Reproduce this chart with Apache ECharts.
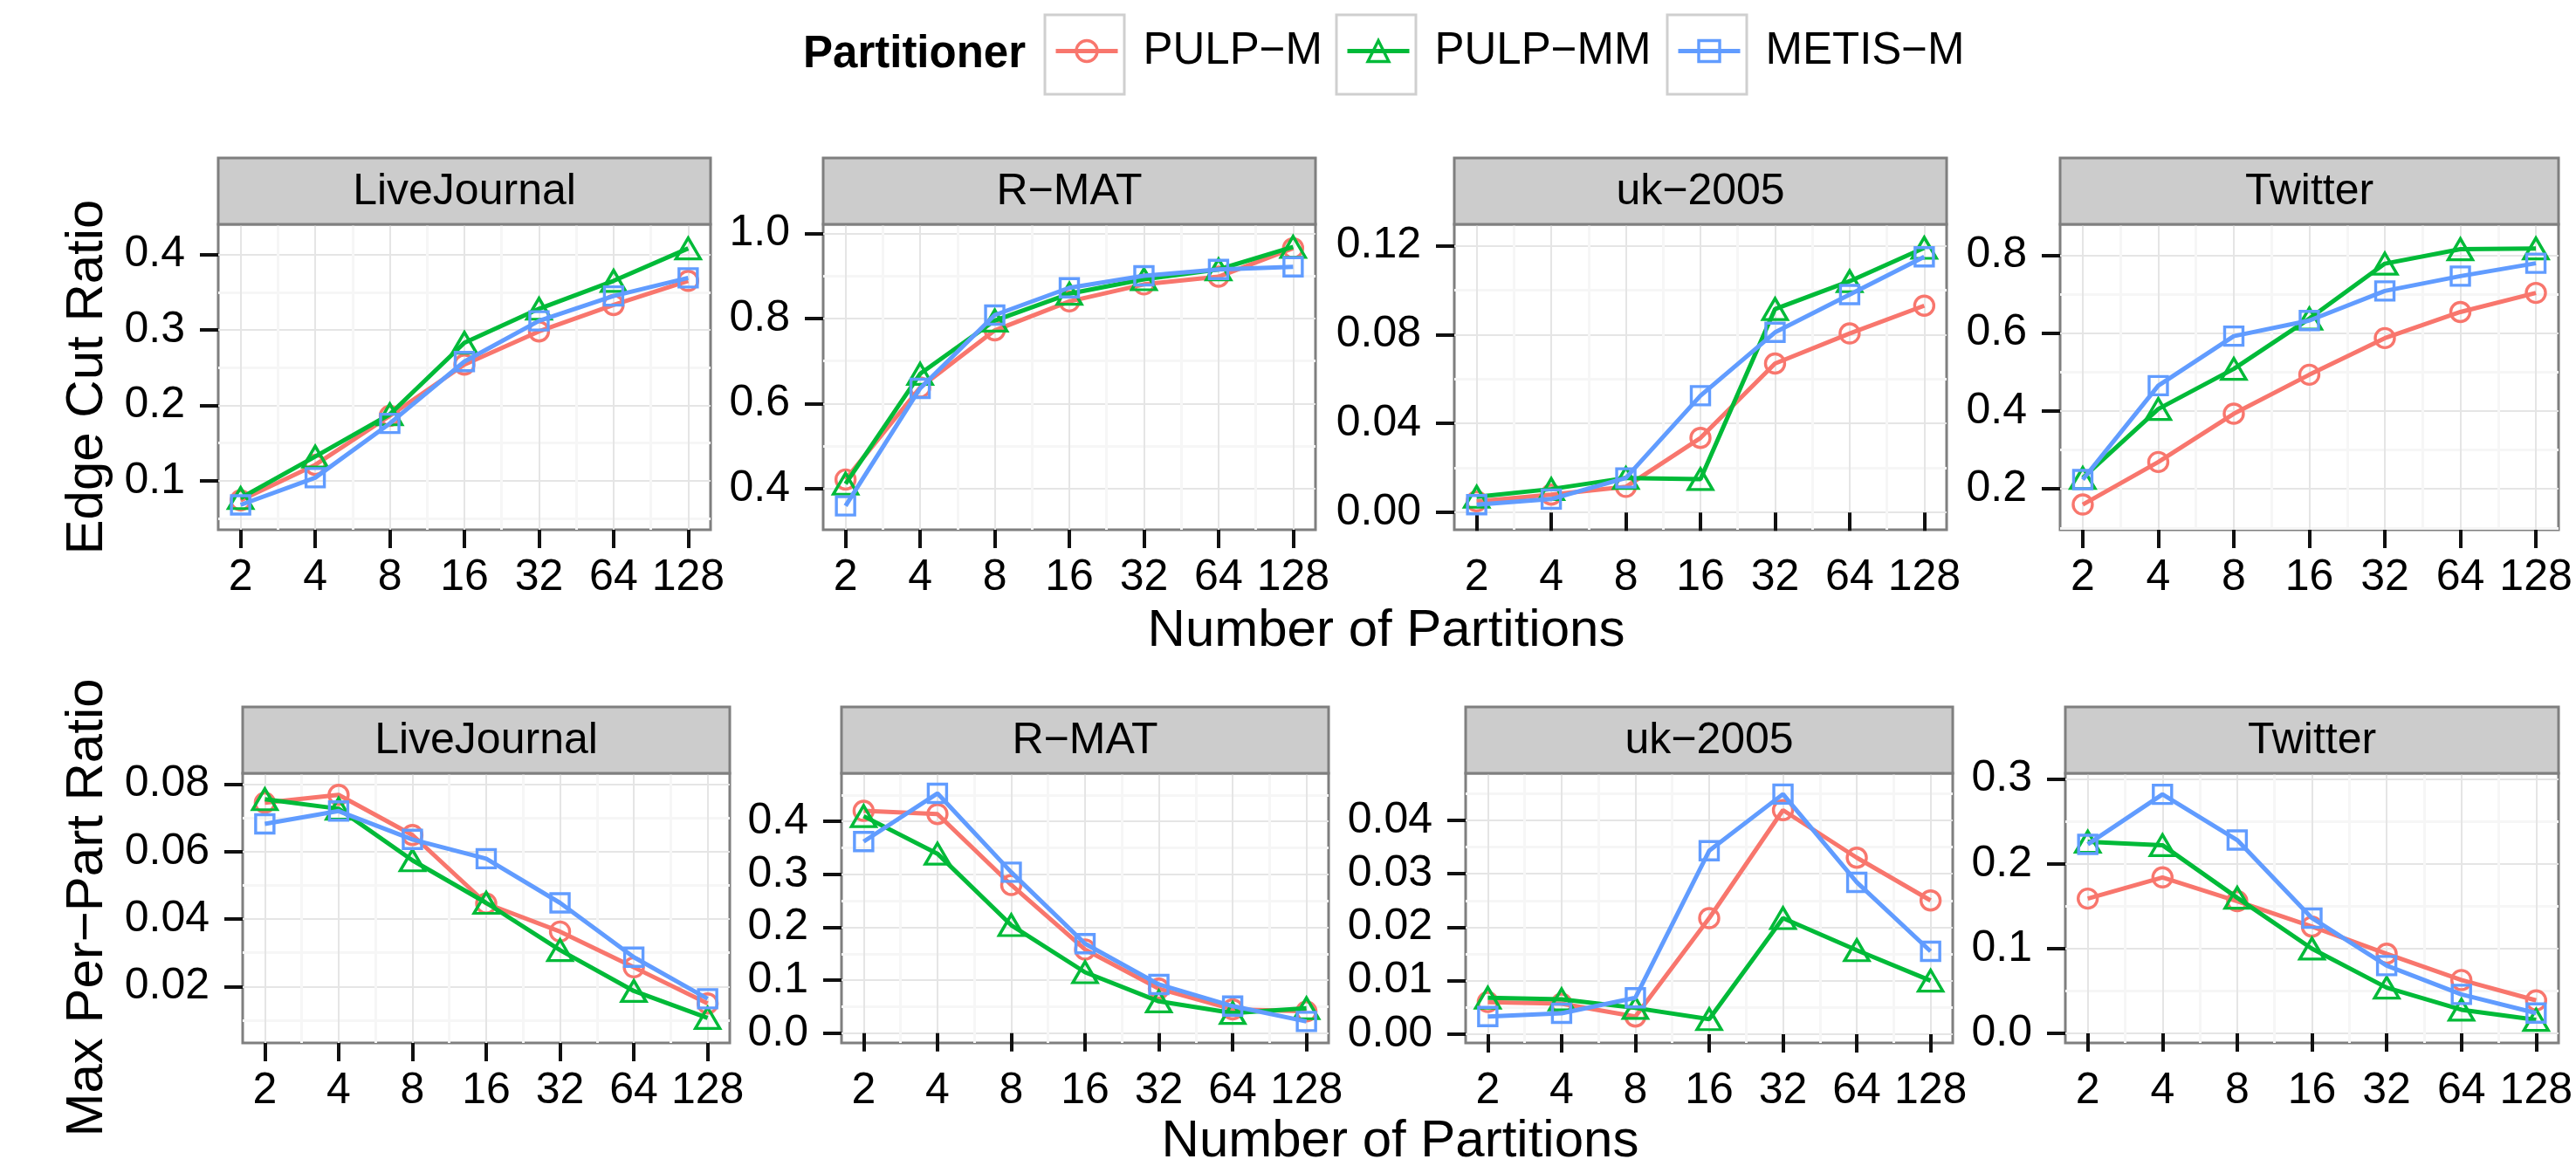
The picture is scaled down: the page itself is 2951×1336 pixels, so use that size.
<!DOCTYPE html>
<html>
<head>
    <meta charset="utf-8">
    <title>Edge Cut Ratio / Max Per-Part Ratio</title>
    <script src="https://cdn.jsdelivr.net/npm/echarts/dist/echarts.min.js"></script>
    <style>
        html, body { margin: 0; background: #fff; }
        #main { width: 2951px; height: 1336px; }
    </style>
</head>
<body>
<div id="main"></div>
<script>
    // ---- data ----
    var partitions = [2, 4, 8, 16, 32, 64, 128];
    var partitioners = ['PULP−M', 'PULP−MM', 'METIS−M'];
    var graphs = ['LiveJournal', 'R−MAT', 'uk−2005', 'Twitter'];

    // edge cut ratio, rows: PULP-M, PULP-MM, METIS-M
    var cutLiveJournal = [
        [0.074, 0.121, 0.186, 0.254, 0.298, 0.333, 0.365],
        [0.077, 0.132, 0.188, 0.283, 0.328, 0.365, 0.408],
        [0.068, 0.104, 0.176, 0.258, 0.312, 0.345, 0.369]
    ];
    var cutRMAT = [
        [0.422, 0.638, 0.772, 0.840, 0.880, 0.898, 0.965],
        [0.412, 0.670, 0.795, 0.858, 0.892, 0.915, 0.968],
        [0.360, 0.636, 0.808, 0.872, 0.900, 0.915, 0.921]
    ];
    var cutUK2005 = [
        [0.0050, 0.0080, 0.0115, 0.0335, 0.0670, 0.0805, 0.0930],
        [0.0070, 0.0105, 0.0155, 0.0150, 0.0915, 0.1040, 0.1190],
        [0.0035, 0.0060, 0.0155, 0.0525, 0.0810, 0.0980, 0.1150]
    ];
    var cutTwitter = [
        [0.160, 0.269, 0.393, 0.493, 0.587, 0.654, 0.703],
        [0.228, 0.405, 0.508, 0.637, 0.778, 0.815, 0.817],
        [0.224, 0.465, 0.592, 0.632, 0.708, 0.746, 0.779]
    ];

    // max per-part ratio, rows: PULP-M, PULP-MM, METIS-M
    var partLiveJournal = [
        [0.0745, 0.0768, 0.0649, 0.0446, 0.0363, 0.0257, 0.0150],
        [0.0755, 0.0727, 0.0574, 0.0448, 0.0308, 0.0187, 0.0107],
        [0.0682, 0.0720, 0.0636, 0.0579, 0.0448, 0.0287, 0.0164]
    ];
    var partRMAT = [
        [0.420, 0.414, 0.280, 0.158, 0.084, 0.045, 0.041],
        [0.410, 0.339, 0.204, 0.115, 0.060, 0.038, 0.047],
        [0.362, 0.453, 0.304, 0.169, 0.092, 0.051, 0.022]
    ];
    var partUK2005 = [
        [0.0060, 0.0057, 0.0033, 0.0217, 0.0419, 0.0330, 0.0250],
        [0.0068, 0.0065, 0.0049, 0.0028, 0.0217, 0.0157, 0.0100],
        [0.0033, 0.0039, 0.0068, 0.0343, 0.0449, 0.0284, 0.0155]
    ];
    var partTwitter = [
        [0.159, 0.184, 0.156, 0.126, 0.094, 0.063, 0.039],
        [0.226, 0.222, 0.160, 0.100, 0.054, 0.028, 0.016],
        [0.223, 0.282, 0.228, 0.136, 0.080, 0.046, 0.024]
    ];

    // y tick labels per panel
    var cutTicks = [[0.1, 0.2, 0.3, 0.4], [0.4, 0.6, 0.8, 1.0], [0, 0.04, 0.08, 0.12], [0.2, 0.4, 0.6, 0.8]];
    var partTicks = [[0.02, 0.04, 0.06, 0.08], [0, 0.1, 0.2, 0.3, 0.4], [0, 0.01, 0.02, 0.03, 0.04], [0, 0.1, 0.2, 0.3]];
    var cutDigits = [1, 1, 2, 1];
    var partDigits = [2, 1, 2, 1];

    // ---- layout ----
    var FONT = '"Liberation Sans", Arial, sans-serif';
    var colors = ['#F8766D', '#00BA38', '#619CFF'];
    var symbols = ['circle', 'triangle', 'rect'];
    var symbolSizes = [22, [28, 24], 21];
    var LINE_W = 5, MARK_W = 3.4;

    var rowTop = [257, 886];
    var rowHeight = [350, 309];
    var stripH = 76;
    var panelLeft = [[250, 943, 1666, 2360], [278, 964, 1679, 2366]];
    var panelRight = [[814, 1507, 2230, 2931], [836, 1522, 2237, 2931]];
    // y extents (ggplot-style padded)
    var cutRange = [[0.035, 0.44], [0.304, 1.021], [-0.0078, 0.1296], [0.0952, 0.879]];
    var partRange = [[0.0033, 0.0832], [-0.0186, 0.491], [-0.00165, 0.0488], [-0.0112, 0.3068]];

    var xMin = Math.pow(2, 0.7), xMax = Math.pow(2, 7.3);
    var xMinor = [];
    for (var i = 0; i + 1 < partitions.length; i++) {
        xMinor.push(Math.sqrt(partitions[i] * partitions[i + 1]));
    }

    function minorOf(ticks, range) {
        var step = ticks[1] - ticks[0];
        var out = [ticks[0] - step / 2];
        ticks.forEach(function (t) { out.push(t + step / 2); });
        return out.filter(function (v) { return v > range[0] && v < range[1]; });
    }

    var rows = [
        { data: [cutLiveJournal, cutRMAT, cutUK2005, cutTwitter], ticks: cutTicks, range: cutRange, digits: cutDigits },
        { data: [partLiveJournal, partRMAT, partUK2005, partTwitter], ticks: partTicks, range: partRange, digits: partDigits }
    ];

    var grids = [], xAxes = [], yAxes = [], series = [], graphics = [];
    var labelStyle = { color: '#000', fontSize: 50, fontFamily: FONT };

    rows.forEach(function (row, r) {
        for (var c = 0; c < 4; c++) {
            var g = grids.length;
            var left = panelLeft[r][c], width = panelRight[r][c] - panelLeft[r][c];
            grids.push({
                left: left, top: rowTop[r], width: width, height: rowHeight[r],
                show: true, backgroundColor: '#fff', borderColor: '#7f7f7f', borderWidth: 3
            });
            var digits = row.digits[c];
            // main axes
            xAxes.push({
                gridIndex: g, type: 'log', logBase: 2, min: xMin, max: xMax,
                axisLine: { show: false },
                axisTick: { show: true, length: 21, lineStyle: { color: '#111', width: 4 }, customValues: partitions },
                axisLabel: Object.assign({ margin: 30, customValues: partitions }, labelStyle),
                splitLine: { show: true, lineStyle: { color: '#e5e5e5', width: 2 } }
            });
            yAxes.push({
                gridIndex: g, type: 'value', min: row.range[c][0], max: row.range[c][1],
                axisLine: { show: false },
                axisTick: { show: true, length: 21, lineStyle: { color: '#111', width: 4 }, customValues: row.ticks[c] },
                axisLabel: Object.assign({
                    margin: 38, customValues: row.ticks[c],
                    formatter: (function (d) { return function (v) { return v.toFixed(d); }; })(digits)
                }, labelStyle),
                splitLine: { show: true, lineStyle: { color: '#e5e5e5', width: 2 } }
            });
            // minor grid axes
            xAxes.push({
                gridIndex: g, type: 'log', logBase: 2, min: xMin, max: xMax,
                axisLine: { show: false }, axisLabel: { show: false },
                axisTick: { show: false, customValues: xMinor },
                splitLine: { show: true, lineStyle: { color: '#f6f6f6', width: 3 } }
            });
            yAxes.push({
                gridIndex: g, type: 'value', min: row.range[c][0], max: row.range[c][1],
                axisLine: { show: false }, axisLabel: { show: false },
                axisTick: { show: false, customValues: minorOf(row.ticks[c], row.range[c]) },
                splitLine: { show: true, lineStyle: { color: '#f6f6f6', width: 3 } }
            });

            row.data[c].forEach(function (vals, k) {
                series.push({
                    type: 'line', name: partitioners[k],
                    xAxisIndex: 2 * g, yAxisIndex: 2 * g,
                    data: partitions.map(function (p, j) { return [p, vals[j]]; }),
                    symbol: symbols[k], symbolSize: symbolSizes[k],
                    showAllSymbol: true,
                    lineStyle: { color: colors[k], width: LINE_W },
                    itemStyle: { color: 'rgba(255,255,255,0)', borderColor: colors[k], borderWidth: MARK_W },
                    emphasis: { disabled: true },
                    z: 3 + k
                });
            });

            // facet strip
            graphics.push({
                type: 'rect', z: 1,
                shape: { x: left, y: rowTop[r] - stripH, width: width, height: stripH },
                style: { fill: '#cccccc', stroke: '#7f7f7f', lineWidth: 3 }
            });
            graphics.push({
                type: 'text', z: 2, x: left + width / 2, y: rowTop[r] - stripH / 2 + 1,
                style: { text: graphs[c], fill: '#000', font: '50px ' + FONT, align: 'center', verticalAlign: 'middle' }
            });
        }
    });

    // axis titles
    graphics.push({
        type: 'text', x: 1588, y: 723,
        style: { text: 'Number of Partitions', fill: '#000', font: '60px ' + FONT, align: 'center', verticalAlign: 'middle' }
    });
    graphics.push({
        type: 'text', x: 1604, y: 1308,
        style: { text: 'Number of Partitions', fill: '#000', font: '60px ' + FONT, align: 'center', verticalAlign: 'middle' }
    });
    graphics.push({
        type: 'text', x: 100, y: 432, rotation: Math.PI / 2,
        style: { text: 'Edge Cut Ratio', fill: '#000', font: '60px ' + FONT, align: 'center', verticalAlign: 'middle' }
    });
    graphics.push({
        type: 'text', x: 100, y: 1040, rotation: Math.PI / 2,
        style: { text: 'Max Per−Part Ratio', fill: '#000', font: '60px ' + FONT, align: 'center', verticalAlign: 'middle' }
    });

    // legend title and key boxes
    graphics.push({
        type: 'text', x: 920, y: 63,
        style: { text: 'Partitioner', fill: '#000', font: 'bold 51px ' + FONT, align: 'left', verticalAlign: 'middle' }
    });
    var keyLeft = [1197, 1531, 1910];
    keyLeft.forEach(function (x) {
        graphics.push({
            type: 'rect', z: 0,
            shape: { x: x, y: 17, width: 91, height: 91 },
            style: { fill: '#fff', stroke: '#cfcfcf', lineWidth: 3 }
        });
    });

    var legends = partitioners.map(function (name, k) {
        return {
            data: [name], left: keyLeft[k] + 10, top: 33, padding: 0,
            itemWidth: 71, itemHeight: 30, selectedMode: false, z: 10,
            lineStyle: { width: LINE_W },
            itemStyle: { borderWidth: MARK_W },
            textStyle: { color: '#000', fontSize: 51, fontFamily: FONT, padding: [0, 0, 0, 24] }
        };
    });

    var chart = echarts.init(document.getElementById('main'));
    chart.setOption({
        animation: false,
        backgroundColor: '#fff',
        textStyle: { fontFamily: FONT },
        grid: grids,
        xAxis: xAxes,
        yAxis: yAxes,
        legend: legends,
        graphic: graphics,
        series: series
    });
</script>
</body>
</html>
